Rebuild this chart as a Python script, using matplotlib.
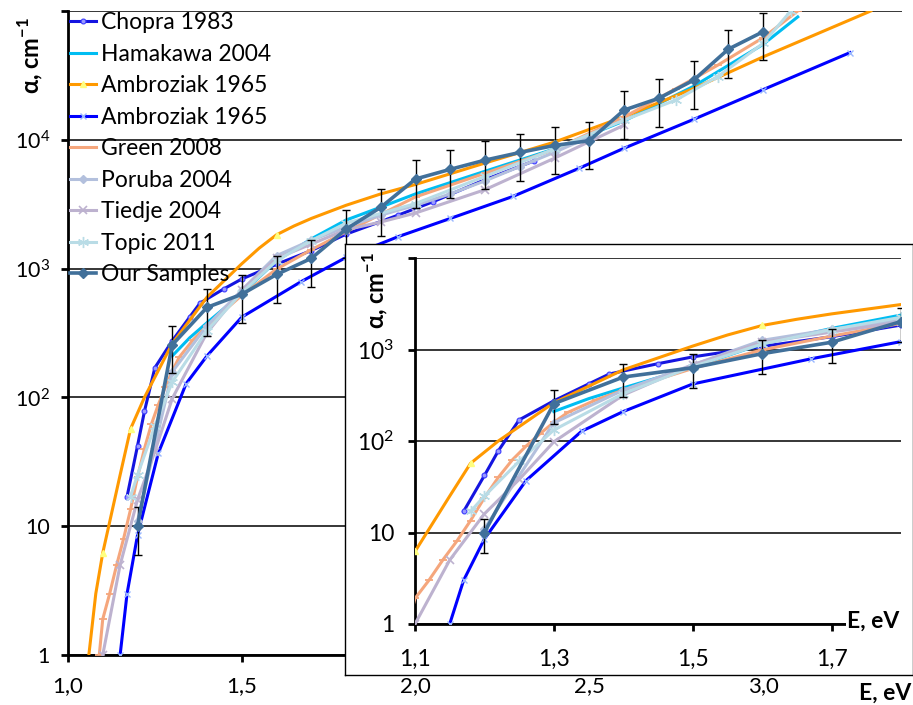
import math
import matplotlib
matplotlib.use('Agg')
import matplotlib.pyplot as plt
from matplotlib.ticker import FixedLocator, FuncFormatter, NullLocator

plt.rcParams['font.family'] = ['Lato', 'DejaVu Sans']
plt.rcParams['mathtext.fontset'] = 'custom'
plt.rcParams['mathtext.rm'] = 'Lato'
plt.rcParams['mathtext.bf'] = 'Lato:bold'

# absorption coefficient vs photon energy, literature data + own samples
chopra_E = [1.17, 1.20, 1.22, 1.25, 1.30, 1.35, 1.38, 1.45, 1.50, 1.60, 1.70, 1.80, 1.95, 2.05, 2.20, 2.34]
chopra_a = [17, 42, 78, 170, 275, 420, 540, 700, 830, 1080, 1380, 1850, 2600, 3300, 4900, 6840]

hamakawa_E = [1.30, 1.35, 1.40, 1.50, 1.60, 1.70, 1.80, 1.90, 2.00, 2.20, 2.40, 2.60, 2.80, 3.00, 3.10]
hamakawa_a = [210, 290, 380, 640, 1150, 1700, 2380, 3000, 3800, 5700, 8500, 14000, 26000, 55000, 90000]

ambr1_E = [1.06, 1.08, 1.10, 1.15, 1.18, 1.22, 1.30, 1.40, 1.50, 1.55, 1.60, 1.65, 1.70, 1.80, 1.90,
           2.00, 2.20, 2.40, 2.60, 2.80, 3.00, 3.31]
ambr1_a = [1.0, 3.0, 6.2, 25, 57, 100, 262, 600, 1090, 1440, 1830, 2140, 2450, 3100, 3800,
           4500, 6600, 9600, 15100, 25000, 44000, 100000]

ambr2_E = [1.15, 1.17, 1.20, 1.26, 1.34, 1.40, 1.50, 1.67, 1.80, 1.95, 2.10, 2.28, 2.47, 2.60, 2.80, 3.00, 3.25]
ambr2_a = [1.0, 3.0, 8.5, 37, 128, 210, 420, 790, 1220, 1770, 2450, 3630, 6000, 8600, 14400, 24500, 47500]

green_E = [1.09, 1.10, 1.12, 1.14, 1.16, 1.18, 1.20, 1.22, 1.24, 1.26, 1.28, 1.30, 1.32, 1.36, 1.40,
           1.50, 1.60, 1.70, 1.80, 2.00, 2.20, 2.40, 2.60, 2.75, 2.87, 3.00, 3.10]
green_a = [1.0, 1.9, 3.0, 5.0, 8.0, 13.5, 24, 40, 62, 88, 120, 160, 205, 280, 360,
           620, 990, 1400, 1930, 3600, 5500, 8400, 15000, 25000, 38000, 62000, 100000]

poruba_E = [1.20, 1.30, 1.40, 1.50, 1.60, 1.70, 1.80, 1.90, 2.00, 2.10, 2.20, 2.30, 2.40, 2.50]
poruba_a = [11, 158, 360, 680, 1260, 1660, 2100, 2600, 3100, 3800, 4800, 6200, 8000, 10500]

tiedje_E = [1.10, 1.15, 1.20, 1.25, 1.30, 1.40, 1.50, 1.60, 1.70, 1.80, 1.90, 2.00, 2.20, 2.40, 2.60]
tiedje_a = [1.0, 5.0, 16, 38, 98, 318, 680, 1200, 1550, 2000, 2300, 2700, 4100, 7200, 13000]

topic_E = [1.18, 1.20, 1.25, 1.30, 1.40, 1.50, 1.60, 1.70, 1.80, 2.00, 2.20, 2.40, 2.60, 2.75, 2.87, 3.00, 3.08]
topic_a = [17, 25, 60, 132, 330, 650, 1150, 1650, 2250, 3200, 5200, 8500, 14200, 20400, 31000, 56000, 100000]

ours_E = [1.2, 1.3, 1.4, 1.5, 1.6, 1.7, 1.8, 1.9, 2.0, 2.1, 2.2, 2.3, 2.4, 2.5, 2.6, 2.7, 2.8, 2.9, 3.0]
ours_a = [10, 256, 500, 632, 900, 1200, 2020, 2990, 4960, 5900, 6950, 7970, 9040, 9840, 17000, 21000, 29000, 50500, 69000]
ours_rel_err = 0.4


def draw_series(ax):
    ax.plot(chopra_E, chopra_a, color='#1414e0', lw=2.2, marker='o', ms=3.5,
            mfc='#9a9aff', mec='#3c3cff', mew=0.8, label='Chopra 1983', zorder=3)
    ax.plot(hamakawa_E, hamakawa_a, color='#00bdf2', lw=2.2, label='Hamakawa 2004', zorder=3)
    ax.plot(ambr1_E, ambr1_a, color='#ff9900', lw=2.2, marker='^', ms=4, markevery=[2, 4, 10, 17],
            mfc='#ffff80', mec='#ffff80', label='Ambroziak 1965', zorder=3)
    ax.plot(ambr2_E, ambr2_a, color='#0000ff', lw=2.2, marker='x', ms=4,
            mec='#9ab8ff', mew=1, label='Ambroziak 1965', zorder=3)
    ax.plot(green_E, green_a, color='#f5a67c', lw=2.2, marker='_', ms=6,
            mec='#f5a67c', mew=1.3, label='Green 2008', zorder=3)
    ax.plot(poruba_E, poruba_a, color='#b3c0dd', lw=2.2, marker='D', ms=4.5,
            mfc='#b3c0dd', mec='#b3c0dd', label='Poruba 2004', zorder=3)
    ax.plot(tiedje_E, tiedje_a, color='#bdb2cf', lw=2.2, marker='x', ms=6,
            mew=1.2, label='Tiedje 2004', zorder=3)
    ax.plot(topic_E, topic_a, color='#b9dce6', lw=2.2, marker=(6, 2, 0), ms=8,
            mew=1, label='Topic 2011', zorder=3)
    err = [v * ours_rel_err for v in ours_a]
    ax.errorbar(ours_E, ours_a, yerr=err, fmt='none', ecolor='black',
                elinewidth=1, capsize=3, capthick=1, zorder=4)
    ax.plot(ours_E, ours_a, color='#41709a', lw=2.6, marker='D', ms=5.5,
            mfc='#41709a', mec='#41709a', label='Our Samples', zorder=5)


def style_axes(ax, xticks, xlim, ylim, ytop_label):
    ax.set_yscale('log')
    ax.set_xlim(*xlim)
    ax.set_ylim(*ylim)
    for s in ['top', 'right']:
        ax.spines[s].set_visible(False)
    for s in ['left', 'bottom']:
        ax.spines[s].set_linewidth(2.0)
        ax.spines[s].set_color('black')
    ax.xaxis.set_major_locator(FixedLocator(xticks))
    ax.xaxis.set_minor_locator(NullLocator())
    ax.xaxis.set_major_formatter(FuncFormatter(lambda v, p: f'{v:.1f}'.replace('.', ',')))
    decades = [10 ** k for k in range(0, ytop_label + 2)]
    ax.yaxis.set_major_locator(FixedLocator(decades))
    ax.yaxis.set_minor_locator(NullLocator())

    def yfmt(v, p):
        k = int(round(math.log10(v)))
        if k > ytop_label:
            return ''
        if k == 0:
            return '1'
        if k == 1:
            return '10'
        return '$\\mathregular{10^{%d}}$' % k
    ax.yaxis.set_major_formatter(FuncFormatter(yfmt))
    ax.grid(axis='y', color='black', lw=1.1)
    ax.set_axisbelow(True)


fig = plt.figure(figsize=(9.13, 7.05), dpi=100)
W, H = 913, 705

ax = fig.add_axes([68 / W, 1 - 655 / H, (902 - 68) / W, (655 - 11) / H])
draw_series(ax)
style_axes(ax, [1.0, 1.5, 2.0, 2.5, 3.0], (1.0, 3.4), (1, 1e5), 4)
ax.tick_params(axis='both', direction='out', length=5, width=2)
ax.tick_params(axis='x', pad=10, labelsize=16)
ax.tick_params(axis='y', pad=8, labelsize=15.5)
ax.legend(loc='upper left', bbox_to_anchor=(70 / W, 1 - 12 / H), bbox_transform=fig.transFigure,
          frameon=False, fontsize=16.5, handlelength=1.15, handletextpad=0.2,
          labelspacing=0.46, borderaxespad=0, borderpad=0)
fig.text(30 / W, 1 - 55 / H, 'α, cm$^{\\mathbf{-1}}$', rotation=90, ha='center', va='center',
         fontsize=17, fontweight='bold')
fig.text(885 / W, 1 - 693 / H, 'E, eV', ha='center', va='center', fontsize=16.5, fontweight='bold')

# inset: zoom on the absorption edge
frame = fig.add_axes([345 / W, 1 - 675 / H, (913 - 345) / W, (675 - 244) / H])
frame.set_xticks([])
frame.set_yticks([])
frame.set_facecolor('white')
for s in frame.spines.values():
    s.set_linewidth(1.0)
frame.set_zorder(5)

axin = fig.add_axes([415 / W, 1 - 624 / H, (901 - 415) / W, (624 - 258) / H])
axin.set_zorder(6)
axin.patch.set_alpha(0)
draw_series(axin)
style_axes(axin, [1.1, 1.3, 1.5, 1.7], (1.1, 1.8), (1, 1e4), 3)
axin.spines['bottom'].set_bounds(1.1, 1.74)
axin.tick_params(axis='both', direction='out', length=5, width=2, labelsize=16.5)
axin.tick_params(axis='x', pad=13)
axin.tick_params(axis='y', pad=10)
fig.text(375 / W, 1 - 290 / H, 'α, cm$^{\\mathbf{-1}}$', rotation=90, ha='center', va='center',
         fontsize=17, fontweight='bold', zorder=10)
fig.text(847 / W, 1 - 621 / H, 'E, eV', ha='left', va='center', fontsize=16.5, fontweight='bold',
         zorder=10, bbox=dict(facecolor='white', edgecolor='none', pad=1))

fig.savefig('out.png', dpi=100)
